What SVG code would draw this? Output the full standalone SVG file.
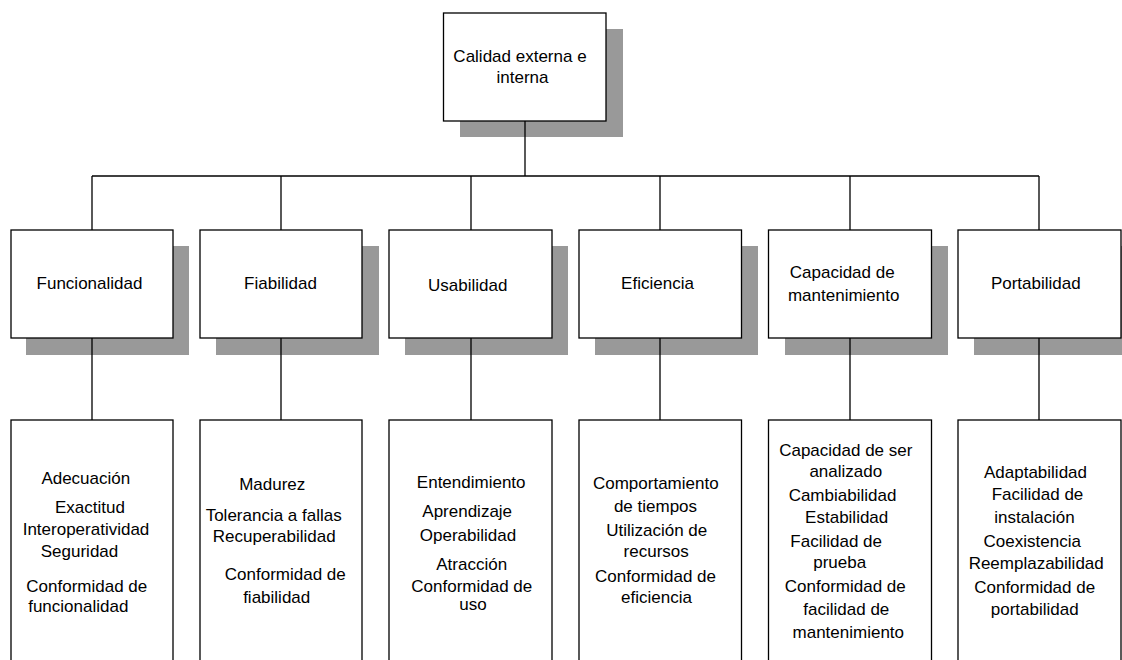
<svg xmlns="http://www.w3.org/2000/svg" width="1122" height="660" viewBox="0 0 1122 660">
<style>
  .box { fill: #ffffff; stroke: #000000; stroke-width: 1.3; }
  .shadow { fill: #999999; stroke: none; }
  .conn { fill: none; stroke: #000000; stroke-width: 1.3; }
  text { font-family: "Liberation Sans", Arial, sans-serif; font-size: 17px; fill: #000000; text-anchor: middle; }
</style>
<rect width="1122" height="660" fill="#ffffff"/>

<g id="root">
  <rect class="shadow" x="460" y="29" width="163" height="108"/>
  <rect class="box" x="443.5" y="13" width="162.5" height="108"/>
  <text x="520" y="61.7">Calidad externa e</text>
  <text x="522.5" y="83">interna</text>
</g>

<g id="funcionalidad">
  <rect class="shadow" x="26" y="246" width="163" height="109"/>
  <rect class="box" x="11" y="230" width="162" height="108"/>
  <text x="89.5" y="289.3">Funcionalidad</text>
</g>
<g id="fiabilidad">
  <rect class="shadow" x="216" y="246" width="163" height="109"/>
  <rect class="box" x="200" y="230" width="162" height="108"/>
  <text x="280.5" y="289.3">Fiabilidad</text>
</g>
<g id="usabilidad">
  <rect class="shadow" x="405" y="246" width="163" height="109"/>
  <rect class="box" x="389" y="230" width="163" height="108"/>
  <text x="467.8" y="291">Usabilidad</text>
</g>
<g id="eficiencia">
  <rect class="shadow" x="595" y="246" width="163" height="109"/>
  <rect class="box" x="579" y="230" width="162.5" height="108"/>
  <text x="657.5" y="289.3">Eficiencia</text>
</g>
<g id="mantenimiento">
  <rect class="shadow" x="785" y="246" width="163" height="109"/>
  <rect class="box" x="768.5" y="230" width="163" height="108"/>
  <text x="842.2" y="278.3">Capacidad de</text>
  <text x="843.7" y="301">mantenimiento</text>
</g>
<g id="portabilidad">
  <rect class="shadow" x="974" y="246" width="163" height="109"/>
  <rect class="box" x="958" y="230" width="163" height="108"/>
  <text x="1035.8" y="289.3">Portabilidad</text>
</g>

<g id="funcionalidad-sub">
  <rect class="box" x="11" y="420" width="162" height="260"/>
  <text x="85.8" y="484">Adecuación</text>
  <text x="90" y="512.7">Exactitud</text>
  <text x="86" y="535">Interoperatividad</text>
  <text x="79.5" y="556.5">Seguridad</text>
  <text x="86.8" y="591.7">Conformidad de</text>
  <text x="78.3" y="612.3">funcionalidad</text>
</g>
<g id="fiabilidad-sub">
  <rect class="box" x="200" y="420" width="162" height="260"/>
  <text x="272.2" y="490">Madurez</text>
  <text x="273.7" y="520.7">Tolerancia a fallas</text>
  <text x="274.2" y="541.7">Recuperabilidad</text>
  <text x="285.3" y="580">Conformidad de</text>
  <text x="276.7" y="603">fiabilidad</text>
</g>
<g id="usabilidad-sub">
  <rect class="box" x="389" y="420" width="163" height="260"/>
  <text x="471.2" y="488.3">Entendimiento</text>
  <text x="467.2" y="516.7">Aprendizaje</text>
  <text x="468" y="540.7">Operabilidad</text>
  <text x="471.7" y="570">Atracción</text>
  <text x="471.8" y="591.5">Conformidad de</text>
  <text x="473" y="609.5">uso</text>
</g>
<g id="eficiencia-sub">
  <rect class="box" x="579" y="420" width="162.5" height="260"/>
  <text x="655.8" y="489.3">Comportamiento</text>
  <text x="655.5" y="512.3">de tiempos</text>
  <text x="656.7" y="536">Utilización de</text>
  <text x="656.2" y="556.7">recursos</text>
  <text x="655.5" y="581.7">Conformidad de</text>
  <text x="656.5" y="603.3">eficiencia</text>
</g>
<g id="mantenimiento-sub">
  <rect class="box" x="768.5" y="420" width="163" height="260"/>
  <text x="845.8" y="456">Capacidad de ser</text>
  <text x="845.8" y="477.3">analizado</text>
  <text x="842.5" y="500.7">Cambiabilidad</text>
  <text x="846.7" y="523.3">Estabilidad</text>
  <text x="836.2" y="546.7">Facilidad de</text>
  <text x="839.7" y="568.3">prueba</text>
  <text x="845.3" y="592.3">Conformidad de</text>
  <text x="846.3" y="615">facilidad de</text>
  <text x="848.3" y="638.3">mantenimiento</text>
</g>
<g id="portabilidad-sub">
  <rect class="box" x="958" y="420" width="163" height="260"/>
  <text x="1035.5" y="478.3">Adaptabilidad</text>
  <text x="1037.5" y="500">Facilidad de</text>
  <text x="1034.5" y="523.3">instalación</text>
  <text x="1032.2" y="546.7">Coexistencia</text>
  <text x="1036.2" y="569.3">Reemplazabilidad</text>
  <text x="1034.7" y="593.3">Conformidad de</text>
  <text x="1034.7" y="615">portabilidad</text>
</g>

<g id="connectors">
  <path class="conn" d="M525 121 V176"/>
  <path class="conn" d="M92 176 H1039"/>
  <path class="conn" d="M92 176 V230 M281 176 V230 M471 176 V230 M660 176 V230 M850 176 V230 M1039 176 V230"/>
  <path class="conn" d="M92 338 V420 M281 338 V420 M471 338 V420 M660 338 V420 M850 338 V420 M1039 338 V420"/>
</g>
</svg>
